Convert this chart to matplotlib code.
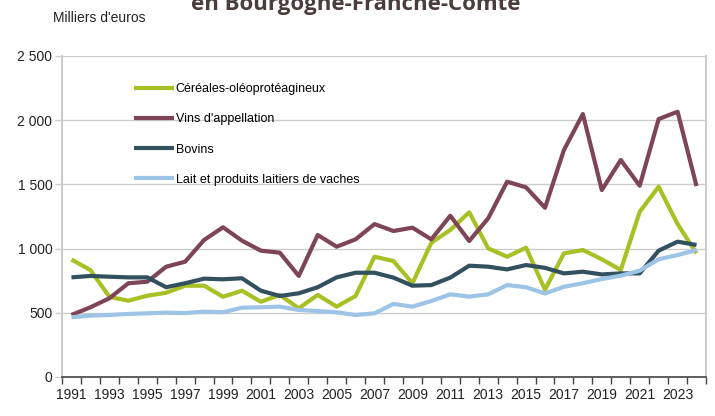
import numpy as np
import matplotlib.pyplot as plt
from matplotlib.ticker import FuncFormatter

years = list(range(1991, 2025))

cereales = [915, 833, 625, 594, 633, 656, 711, 711, 625, 672,
            586, 639, 535, 639, 548, 631, 937, 903, 730, 1046,
            1145, 1283, 1002, 937, 1007, 680, 963, 989, 917, 833,
            1287, 1482, 1191, 963]
vins = [483, 543, 613, 730, 742, 859, 898, 1067, 1166, 1062,
        984, 968, 787, 1106, 1015, 1072, 1191, 1137, 1163, 1072,
        1256, 1059, 1236, 1521, 1477, 1318, 1768, 2048, 1456, 1690,
        1490, 2009, 2066, 1487]
bovins = [776, 787, 781, 776, 776, 699, 730, 766, 761, 769,
          672, 631, 652, 699, 776, 812, 812, 774, 711, 716,
          774, 867, 859, 838, 872, 850, 807, 820, 799, 807,
          807, 984, 1054, 1028]
lait = [465, 478, 483, 491, 496, 501, 498, 509, 504, 540,
        543, 548, 522, 514, 504, 483, 496, 569, 548, 592,
        644, 626, 644, 716, 699, 650, 703, 730, 763, 789,
        828, 917, 950, 989]

series = [
    ("Céréales-oléoprotéagineux", cereales, "#a8c023"),
    ("Vins d'appellation", vins, "#7e4557"),
    ("Bovins", bovins, "#33505f"),
    ("Lait et produits laitiers de vaches", lait, "#9dc3e6"),
]

plt.rcParams['font.family'] = ['Liberation Sans', 'DejaVu Sans']

fig = plt.figure(figsize=(7.15, 4.16), dpi=100)
ax = fig.add_axes([62 / 715, 1 - 377 / 416, 644 / 715, 321 / 416])

for name, vals, col in series:
    ax.plot(years, vals, color=col, lw=3, label=name, solid_capstyle='butt', zorder=3)

ax.set_xlim(1990.5, 2024.5)
ax.set_ylim(0, 2500)
ax.set_yticks(range(0, 2501, 500))
ax.yaxis.set_major_formatter(FuncFormatter(lambda v, p: f"{int(v):,}".replace(",", " ")))
ax.grid(axis='y', color='#cccccc', lw=1)
ax.set_axisbelow(True)

# labels every other year, tick marks between categories
ax.set_xticks(years[::2])
ax.set_xticks(np.arange(1990.5, 2025, 1), minor=True)
ax.tick_params(axis='x', which='major', length=0, labelsize=10, colors='#222222', pad=8)
ax.tick_params(axis='x', which='minor', length=5, width=1, color='#444444', direction='out')
ax.tick_params(axis='y', length=5, width=1, color='#cccccc', labelsize=10,
               labelcolor='#222222', pad=2)

for s in ['left', 'right']:
    ax.spines[s].set_color('#cccccc')
    ax.spines[s].set_linewidth(1.5)
ax.spines['top'].set_visible(False)
ax.spines['bottom'].set_color('#444444')
ax.spines['bottom'].set_linewidth(1.2)

leg = ax.legend(loc='upper left', bbox_to_anchor=(0.095, 0.95), frameon=False,
                fontsize=9, handlelength=3.2, handletextpad=0.1, labelspacing=1.45)
for line in leg.get_lines():
    line.set_linewidth(3)

fig.text(53 / 715, 1 - 18 / 416, "Milliers d'euros", fontsize=10, color='#222222',
         ha='left', va='center')
fig.text(0.497, 1 - 10 / 416, "en Bourgogne-Franche-Comté", fontsize=16,
         fontweight='bold', color='#4a3d3a', ha='center', va='baseline',
         family=['Open Sans', 'DejaVu Sans'])

fig.savefig("out.png", dpi=100)
